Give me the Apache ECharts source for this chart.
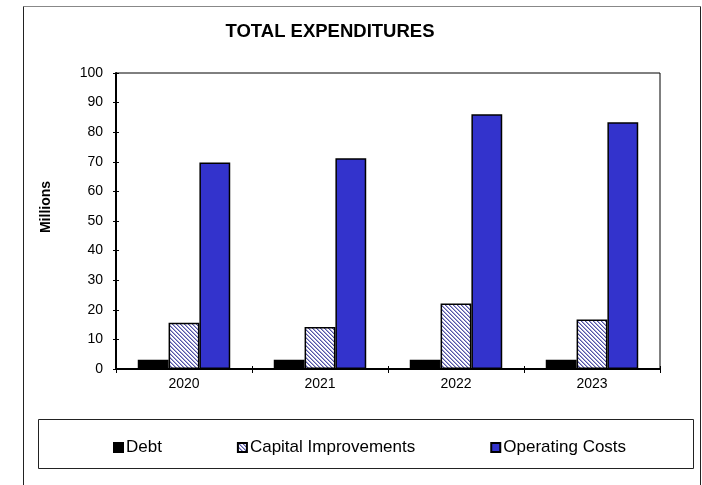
<!DOCTYPE html>
<html>
<head>
<meta charset="utf-8">
<style>
  html, body { margin: 0; padding: 0; background: #fff; }
  #chart { width: 702px; height: 485px; }
</style>
<script src="https://cdn.jsdelivr.net/npm/echarts@6/dist/echarts.min.js"></script>
</head>
<body>
<div id="chart"></div>
<script>
// Expenditure figures, in millions
const years = ['2020', '2021', '2022', '2023'];
const debt = [3.1, 3.1, 3.1, 3.1];
const capitalImprovements = [15.6, 14.2, 22.1, 16.7];
const operatingCosts = [69.8, 71.2, 86.1, 83.4];
const seriesNames = ['Debt', 'Capital Improvements', 'Operating Costs'];

// Diagonal hatch tile for the capital improvements bars
function hatchTile() {
  const c = document.createElement('canvas');
  c.width = 4; c.height = 4;
  const ctx = c.getContext('2d');
  const img = ctx.createImageData(4, 4);
  for (let y = 0; y < 4; y++) {
    for (let x = 0; x < 4; x++) {
      const k = ((x - y) % 4 + 4) % 4;
      let col = [255, 255, 255];
      if (k === 0) col = [85, 85, 165];
      else if (k === 1) col = [165, 165, 215];
      const i = (y * 4 + x) * 4;
      img.data[i] = col[0]; img.data[i + 1] = col[1]; img.data[i + 2] = col[2]; img.data[i + 3] = 255;
    }
  }
  ctx.putImageData(img, 0, 0);
  return c;
}

const FONT = 'Liberation Sans, Arial, sans-serif';
const chart = echarts.init(document.getElementById('chart'), null, { renderer: 'canvas' });

const barBase = {
  type: 'bar',
  barGap: '0%',
  barCategoryGap: '32%',
  emphasis: { disabled: true }
};

chart.setOption({
  animation: false,
  backgroundColor: '#fff',
  grid: { left: 116, right: 42, top: 73, bottom: 116, show: true, borderColor: '#000', borderWidth: 1, backgroundColor: 'transparent' },
  legend: {
    left: 108, top: 434,
    itemWidth: 9, itemHeight: 9, itemGap: 75,
    icon: 'rect',
    textStyle: { fontFamily: FONT, fontSize: 17, color: '#000', padding: [0, 0, 0, -2] },
    selectedMode: false,
    data: seriesNames
  },
  xAxis: [{
    type: 'category',
    data: years,
    axisLine: { lineStyle: { color: '#000', width: 2 } },
    axisTick: { show: true, length: 4, lineStyle: { color: '#000' } },
    axisLabel: { fontFamily: FONT, fontSize: 14, color: '#000', margin: 8 }
  }, {
    type: 'category',
    data: years,
    position: 'bottom',
    axisLine: { show: false },
    axisTick: { show: true, inside: true, length: 3, lineStyle: { color: '#000' } },
    axisLabel: { show: false }
  }],
  yAxis: [{
    type: 'value',
    min: 0, max: 100, interval: 10,
    axisLine: { show: true, lineStyle: { color: '#000', width: 2 } },
    axisTick: { show: true, length: 3, lineStyle: { color: '#000' } },
    splitLine: { show: false },
    axisLabel: { fontFamily: FONT, fontSize: 14, color: '#000', margin: 13 }
  }, {
    type: 'value',
    min: 0, max: 100, interval: 10,
    position: 'left',
    axisLine: { show: false },
    axisTick: { show: true, inside: true, length: 3, lineStyle: { color: '#000' } },
    splitLine: { show: false },
    axisLabel: { show: false }
  }],
  series: [
    Object.assign({}, barBase, { name: seriesNames[0], data: debt, itemStyle: { color: '#000', borderColor: '#000', borderWidth: 1.5 } }),
    Object.assign({}, barBase, { name: seriesNames[1], data: capitalImprovements, itemStyle: { color: { image: hatchTile(), repeat: 'repeat' }, borderColor: '#000', borderWidth: 1.5 } }),
    Object.assign({}, barBase, { name: seriesNames[2], data: operatingCosts, itemStyle: { color: '#3333CC', borderColor: '#000', borderWidth: 1.5 } })
  ],
  graphic: [
    { type: 'line', shape: { x1: 23.5, y1: 6.5, x2: 700.5, y2: 6.5 }, style: { stroke: '#888', lineWidth: 1 }, silent: true },
    { type: 'line', shape: { x1: 23.5, y1: 6.5, x2: 23.5, y2: 485 }, style: { stroke: '#222', lineWidth: 1 }, silent: true },
    { type: 'line', shape: { x1: 700.5, y1: 6.5, x2: 700.5, y2: 485 }, style: { stroke: '#222', lineWidth: 1 }, silent: true },
    { type: 'rect', shape: { x: 38.5, y: 419.5, width: 655, height: 49 }, style: { fill: 'none', stroke: '#222', lineWidth: 1 }, silent: true },
    { type: 'text', x: 330, y: 32, style: { text: 'TOTAL EXPENDITURES', font: 'bold 18.5px ' + FONT, fill: '#000', textAlign: 'center', textVerticalAlign: 'middle' }, silent: true },
    { type: 'text', x: 46, y: 207, rotation: Math.PI / 2, style: { text: 'Millions', font: 'bold 14px ' + FONT, fill: '#000', textAlign: 'center', textVerticalAlign: 'middle' }, silent: true }
  ]
});
</script>
</body>
</html>
